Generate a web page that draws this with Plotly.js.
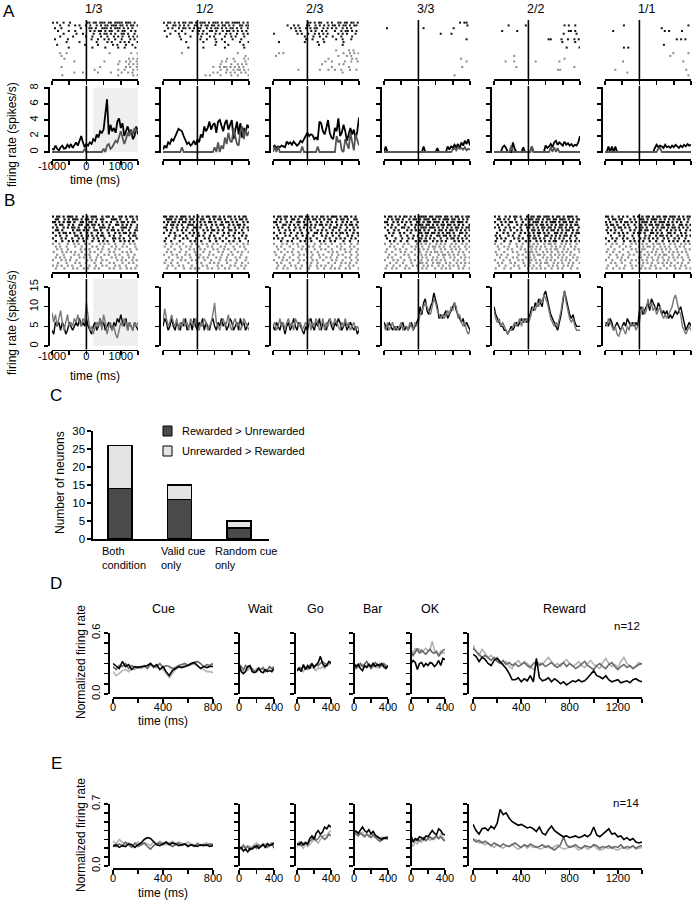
<!DOCTYPE html>
<html>
<head>
<meta charset="utf-8">
<script src="https://cdn.plot.ly/plotly-3.0.1.min.js"></script>
<style>body{margin:0;background:#fff}#fig{width:693px;height:900px}</style>
</head>
<body>
<div id="fig"></div>
<script>
/* ---------- A / B : PSTH values (spikes/s), 50 ms steps from -1000 to 1500 ms ---------- */
var colTitles = ['1/3', '1/2', '2/3', '3/3', '2/2', '1/1'];

var aBlack = [
  [0.4,0.3,0.8,0.4,0.2,0.6,0.8,0.4,0.5,0.9,0.6,1.0,0.5,0.8,1.2,0.8,1.4,2.0,1.2,0.6,1.0,0.8,1.2,1.0,1.6,1.4,2.2,1.8,2.6,2.4,2.8,4.5,6.6,2.2,3.4,2.6,3.0,2.4,3.8,4.2,3.0,3.6,2.0,2.6,3.2,2.4,2.8,1.6,2.0,3.2,2.2],
  [0.3,0.8,0.5,1.2,1.0,1.6,1.4,2.0,2.4,2.9,2.8,2.6,2.0,1.4,1.0,1.2,0.8,1.0,1.4,0.9,1.6,1.2,2.2,1.8,3.2,2.6,3.0,3.8,2.8,3.4,3.6,2.4,3.8,4.0,3.2,2.6,3.6,4.0,2.8,3.4,4.0,1.6,3.0,3.8,2.2,3.6,1.8,3.0,2.4,3.4,3.0],
  [0.6,0.8,0.5,0.7,0.6,0.8,0.7,0.6,1.3,1.0,1.2,0.9,1.3,1.0,0.8,1.0,1.4,1.2,1.6,2.0,2.4,2.0,2.2,2.1,1.6,1.8,1.5,3.8,3.6,2.6,2.2,3.0,4.0,2.4,1.8,1.6,3.0,2.6,4.2,2.0,2.4,3.4,2.6,1.4,2.2,3.0,2.2,2.8,1.6,2.6,4.3],
  [0,0.7,0,0,0,0,0,0,0,0,0,0,0,0,0,0,0,0,0,0,0,0,0,0.7,0,0,0,0,0,0,0,0.5,0,0,0,0,0,0.7,0.3,0.7,0.5,0.9,0.6,1.0,0.5,1.2,0.8,1.4,1.0,1.6,0.8],
  [0,0,0,0,0,0.6,0.8,0.5,0,0,0,1.2,0.4,0,0,0,0,0.6,0,0,0,0,0.7,0,0,0,0,0,0,0,0.8,0.5,0.7,1.0,0.6,1.2,1.4,0.9,1.2,1.0,0.8,1.3,0.9,1.1,0.8,1.0,0.7,0.9,0.8,1.2,2.0],
  [0,0,0.7,0,0.7,0,0.7,0,0,0,0,0,0,0,0,0,0,0,0,0,0,0,0,0,0,0,0,0,0,0.5,0.9,0.6,0.8,0.7,0.5,0.9,0.6,0.7,0.5,0.8,0.6,0.9,0.7,0.5,0.8,0.6,0.9,0.7,1.0,0.8,0.9]
];
var aGray = [
  [0,0,0,0,0,0,0,0,0,0,0,0,0,0,0,0,0,0,0,0.4,0,0,0,0,0,0,0,0,0,0,0.4,0,0.8,1.0,0.4,0.6,1.0,1.4,1.2,2.0,2.6,1.8,1.0,1.6,2.4,2.0,2.8,2.2,3.0,2.6,2.8],
  [0,0,0,0,0,0,0,0,0,0,0,0.6,0,0,0,0,0,0,0,0,0,0,0,0,0,0,0,0,0,0,0.6,0,1.2,0,0.8,0.4,1.8,1.0,2.4,1.4,1.2,3.0,2.0,1.0,0.8,2.6,3.2,1.6,2.8,2.0,2.6],
  [0,0.7,0,0.7,0,0,0,0,0,0,0,0,0,0,0,0,0,0.7,0,0,0,0,0,0,0,0,0.7,0,0,0,0,0,0,0,0,0,0,2.0,1.2,1.5,0.2,0,1.6,1.0,0.4,2.4,1.0,0.2,2.2,1.4,0.8],
  [0,0,0,0,0,0,0,0,0,0,0,0,0,0,0,0,0,0,0,0,0,0,0,0,0,0,0,0,0,0,0,0,0,0,0,0,0,0,0,0,0.3,0.5,0.2,0.6,0.4,0.5,0.3,0.6,0.2,0.4,0.3],
  [0,0,0,0,0,0,0,0,0,0,0.8,0,0,0,0,0,0,0,0,0,0,0,0.7,0,0,0,0,0,0,0,0,0,0,0.6,0,0.6,0,0.5,0,0,0,0,0,0,0,0,0,0,0,0,0],
  [0,0,0,0,0,0,0,0,0,0,0,0,0,0,0,0,0,0,0,0,0,0,0,0,0,0,0,0,0,0,0,0.4,0.5,0,0,0,0,0,0,0,0,0,0,0,0,0,0,0,0,0,0]
];
var bBlack = [
  [4,3,6,5,6,4,6,5,3,4,6,5,4,5,6,5,7,5,6,5,7,5,4,3,5,6,4,5,7,5,6,4,5,6,5,4,6,5,7,6,8,6,5,7,4,6,5,4,6,5,4],
  [5,7,6,4,5,7,5,4,6,5,4,6,5,7,4,5,6,4,7,5,4,6,5,7,4,6,5,4,6,7,5,4,6,5,7,5,6,4,5,7,6,4,5,6,4,7,5,6,4,5,6],
  [5,4,6,5,4,6,5,3,5,6,4,5,7,5,4,6,5,4,3,5,4,6,7,5,4,6,5,7,4,6,5,4,6,7,5,4,6,5,7,6,4,5,6,4,5,6,5,4,5,3,4],
  [6,5,4,6,5,4,5,4,5,4,5,6,4,5,4,5,6,4,5,6,7,10,8,11,12,9,8,10,11,13.5,12,10,7,8,7,8,9,7,8,9,10,11,9,8,7,6,7,5,6,5,4],
  [10,8,7,6,5,5,4,4,3,4,5,4,5,6,5,6,7,6,7,6,7,8,10,9,11,10,12,11,10,13,14,12,10,8,7,6,5,4,6,8,11,14,12,10,8,7,8,6,5,5,5],
  [5,6,5,7,6,4,5,6,5,4,5,6,5,7,6,5,6,5,6,5,9,10,8,9,10,11,9,12,11,10,9,11,10,8,9,8,9,7,8,7,8,9,8,9,10,8,6,4,5,6,5]
];
var bGray = [
  [8.5,6,8,5,7,9,6,4,6,8,5,6,5,7,6,8,6,5,7,6,11,7,4,5,3,5,6,5,7,4,8,6,3,5,6,4,5,3,2,4,6,5,7,6,4,6,5,4,6,5,6],
  [6,9.5,7,5,6,8,6,5,7,4,6,5,7,5,6,4,7,6,5,7,5,4,6,5,7,6,4,5,6,8,11,6,5,4,6,7,5,6,8,5,4,6,7,5,6,4,5,7,6,5,4],
  [5,6,4,5,7,5,6,4,6,7,5,6,4,7,6,5,6,4,5,6,5,7,4,6,5,7,6,4,5,7,4,6,5,7,6,5,7,6,5,4,6,5,7,5,6,4,5,6,4,5,4],
  [5,4,6,4,5,6,4,5,4,5,6,4,5,5,4,6,5,4,6,5,6,8,9,10,11,10,9,8,10,12,11,9,8,7,8,7,8,9,8,10,9,11,10,7,8,6,5,6,4,3,4],
  [9,7,6,7,5,6,5,4,3,4,4,5,6,5,6,7,5,7,6,7,6,7,9,10,9,11,10,12,11,13,12,11,9,7,6,5,6,5,7,9,12,14,11,9,7,6,7,5,4,4,4],
  [6,5,7,6,5,4,5,3,2.5,4,5,4,3,5,4,6,5,6,4,5,6,9,10,8,9,12,10,11,9,10,8,9,10,8,7,8,7,8,9,10,12,13,11,9,8,5,4,3,4,5,4]
];

/* ---------- rasters: one string per trial, 'o' = spike in a 62.5 ms bin ---------- */
var rastABlack = [
  ["o.o..o..o.......oo.oo.ooo.oo.oooo.ooo.o.","...o...o..o.o..o.o..o.o.oo.ooo.oo.o.oo.o",".o..o........o...oo.o..ooo.o.ooo.o.o.o..","..o....o..o......o.o.oo.o.oo..o.oo..o.o.",".....o.....o..o....o..o.oo.o.o..oo.o..o.","...o.....o.....o..o...o..o..o.o.o..o.o.o",".o.....o..........o..o..o.o..o..o...o.o.","......o.....o.......o....o.o...o.o.o...o","..o............o.....o......o.o...o..o..",".......o..........o.....o.....o..o....o."],
  ["o.oo.o.o.oo.oo.o.ooo.o.ooo.o.oo.oooo.o.o",".o..oo.o.o.o..oo.o.oo.oo.o.oo.o.o..oo.oo","..o.o..o.oo.o.o.oo..o.o.oo.o.o.oo.o.o..o","o....o..o....o..o.o..oo.o..o.oo.o.o.o.o.","...o...o..o.....o.o.o...o.o..o.o..o..o.o",".o.....o....o....o...o.o....o..o.o...o..","........o........o..o...o..o....o...o...","..........o.......o.....o...o......o...o.","........................o.....o......o..","...........o......o.........o........o.."],
  ["................oo.o.oo..o.o..oo.oo.oo.o","......o..o.o...oo..o.o.o.o.oo.o.oo.o.oo","........o.o.o..o.o.oo..o.o.o.o..o.o.o..","..........o.o....o.o..o.o...o..o.oo.o.o","o..........o.o..o..o.o.o.o....o.o.o...o","..............o...o..o..o..o...o....o..","...............o..o....o.....o..o...o...","..o...........o.....o..o........o......",".....................o..........o.......","........................................"],
  ["...................................o.oo.","......................................o.",".o................o.............o.......","........................................","..........................o....o........","........................................","......................................o.","........................................","........................................","........................................"],
  ["........................................","......o.......o.................o.o..o..","........................................","...o......o.......................oo.o..","................................o.....o.","........................................",".........................oo....o..o..o.o","...............................o.....o..","........................................",".................................o.....o"],
  ["........................................","........o.............................o.","..........................o.............","...o.......................o.o.....o....","........................................","........................................",".................................o.o.o..","........................................","...........................o............","........o.o............................."]
];
var rastAGray = [
  ["........................................","...o..o...................o.........o..o.","....o...................................o",".....o.............................o.o.o.","..........o.............o......o..o.o..o","..............................o....o.o.oo","....o.................o...........o.o..o","...................o..........o..o...o.o","..........o...o......o.....o....o..o.o..","....o.........................o......o.o"],
  ["........................................","........o.........................o.....","......................................o.",".............................o..o....o.o","...........................o.o...o....o.","..........................o....o..o.o.o.",".......................o..o.oo.o.o.o.o..","..........................o..o..o.oo.o.o",".......................o.o...o.o.o..o.o.","...................o.o....o....o..o....o"],
  [".............................o.....o.o..","..o.o...........................o..o.o.o",".o............................o...o.o...",".........................o..........o.o.","........................o..o.....o..o..o","......................o.......o.o.......","...........................o.......o....","...........o.........o...o..o..o...o..o.","................................o.......","........................................"],
  ["........................................","........................................","........................................","...................................o....","......................................o.","........................................","....................................o...","........................................","........................................","................................o......."],
  ["........................................","........................................",".........o..............................","................................o.......",".....o...o.........o..........o.........","........................................","..........o..........................o..",".............................oo.........","........................................","........................................"],
  ["........................................","...............................o......o.","..............................o.........","........................................","........o...........................o...","........................................","........................................","....o................................o..","..........o.............................","......................................o."]
];
var rastBBlack = [
  ["o.oo.o.ooo.o..o.o.ooo..o.oo.o..oo.o.oo.o",".oo..o.o.ooo.o.oo.o.o.oo...ooo.o..o..o.o","oo.o.o.oo.o..oo..oo.o..o.o.o..o.oo.o.oo.",".o.oo..o.o..oo..o.oo.o.o..o..oo.o.o.o..o","o.o..o.o.oo.o..o.o.o..ooo.o.o...ooo.o..o",".oo.o....o.oo.o.o..oo.o..o.oo.o.o..o..oo","o..o.oo.o.o..o..o.o..o.o..o..o.o.oo.o.o.",".o.o..o...oo.o..o.o.o.oo..o.o..o...o.oo.","o...o.o..o..o.o.o..o.o..o...oo.o.o..o..o",".o..o..o.o.o..o...o..o.o.o..o..o.o.o.o.."],
  ["oo.oo.o.ooo.o.o.o.o.oo.oo.o.o.oo.o.o.oo.",".ooo.o.oo.o.oo.o.oo..o.o.oo.o..o.o.oo.o.","o.o.oo.o.oo.o.o..o.o.oo.o..o.oo.o.o..o.o",".o.oo.o.o..ooo.o.o.o..o.o.oo..o.o.oo.o..","oo..o.o..o.o..oo.o..o.o..o..o.o..o.o.o.o",".o.o..o.o.o..o.o..o.o.oo.o.o..oo.o..o..o","o..o.o...o..o.o.o..o..o..o..o.o..o.o.o..","..o..o.o..o..o..o.o..o.o...o..o.o...o.o.",".o...o...o.o...o...o.o..o.o..o...o.o..o.","o..o...o....o.o..o...o..o..o..o.o..o...o"],
  ["o.oo.oo.o.o.oo.oo.o.o.oo.o.ooo.o.oo.o.o.",".o.o.o..oo.o..o.o.oo.o.o.oo..o.oo.o..oo.","oo.o..o.o..oo.o..o..o.o..o.o.o..o.o.o..o",".o..oo.o.o.o..oo.o.o.oo.o.o..o.o.o.oo.o.","o.o.o..o..o.o.o..o.o...o..o.oo.o..o..o.o","..o..o.o.o..o..o.o..o.o.o..o..o..o.o.o..","o..o.o..o..o.o..o..oo.o..o.o.o.oo.o..o.o",".o...o.o..o..o.o..o...o.o..o..o...o.o..o","o.o.o....o.o...o.o..o...o.o..o.o.o..o.o.","...o..o.o...o.o..o...o.o..o.o...o..o...o"],
  ["o.oo.o.o.oo.o.o.oooo.oo.ooo.oo.o.oo.o.oo",".o.o.oo.o..o.oo.o.ooo.oo.o.ooo.oo.o.o.o.","oo..o.o.o.o.o..oo.o.oo.ooo.o.o.oo.ooo.o.",".o.o..o..o..o.o.oo.oo.o.o.oo.oo.o.o.o..o","o..o.o..oo.o..o..ooo.ooo.o.o.o.o.oo.o.oo",".o..o.o...o.o.o.o.o.o..o.oo.o.oo.o.o.o.o","..o.o..o.o..o...oo.oo.oo.o.o.oo.o..oo.o.","o..o...o..o..o.o.o.o.o..oo.oo.o.o.o..o.o",".o...o..o..o.o..oo.o.o.o..o..o.oo.o.o.o.","..o.o..o..o...o.o.oo..o.o.o.o...o.o.o..o"],
  ["o.o..o.o.oo.o..o.oo.oo.ooo.o.oo.o.ooo.o.",".oo.o.o..o..o.o.oo.oo.o.oo.oo.ooo.o.o.oo","o..o.o.oo.o..o..o.ooo.o.o.ooo.o.oo.oo.o.",".o.o..o...o.o.o.oo.o.oo.o.o.o.oo.o.o.oo.","o.o..o.o.o..o..oo.o.o.oo.oo.o.oo.o.oo..o","..o.o..o..o.o..o.oo.o.o.o.oo.o.o.oo.o.o.",".o..o.o..o..o.o.o.o.oo.o.o..oo.o.o..o.oo","o.o...o.o..o...oo.o.o..oo.o.o.o.oo.o.o..",".o.o.o...o.o.o..o.oo.o.o..o.o.o.o..o..o.","o...o..o...o..o.o..o.o.o.o.oo..o.o.o.o.o"],
  ["oo.o..o.o.o..o.o.o.oo.o.oo.oo.ooo.o.o.oo",".o.oo.oo...o.o..oo.o.ooo.o.o.o.o.oo.o.o.","o.o..o.o.oo.o.o..ooo.o.o.ooo.o.o.o.o..o.","o.oo.o..o.o..o..o.o.oo.oo.o.oo.o..oo.o.o",".o..o.oo.o.o..o.oo.o..o.o.oo.o.oo.o.o.o.","o.o.o..o...o.o..o.oo.o.o.o..o.o.o.o..o.o",".o..o.o.o.o..o.oo.o..oo.o.o..oo.o..o.o..","..o...o.o...o..o..o.o..o.oo.o.o..o.o.o.o","o..o.o..o.o..o..o.o.o.o.o..o.o..o.o..o..",".o..o...o..o.o.o.o..o..o..o..o.o.o..o.o."]
];
var rastBGray = [
  ["o..o...o..o.o..o.o....o.o.o..o...o..o.o.",".o.o..o...o..o....o.o..o...o.o..o.o...o.","..o.o..o.....o.o.o...o.o..o..o.o....o..o","o...o.o.o.o..o...o.o..o...o.o...o.o.o...","..o..o....o.o..o.o...o..o.o..o.o...o..o.",".o.o.o..o...o.o..o..o.o....o.o..o..o.o..","o...o.o.o..o....o.o.o..o.o....o.o.o..o.o","..o...o...o.o..o...o..o...o.o...o..o.o..","o.o.o..o.o...o...o..o..o.o...o.o..o....o",".o...o...o.o..o.o..o.o....o.o..o..o.o.o."],
  [".o..o.o..o...o.o..o.o..o.o...o.o..o..o.o","o..o...o..o.o...o...o.o...o.o...o..o.o..","..o..o..o...o.o..o.o...o.o..o.o..o....o.",".o.o...o..o...o...o..o...o.o...o..o.o..o","o...o.o...o.o..o.o...o.o...o..o.o...o...","..o...o.o...o...o.o.o...o.o..o...o.o..o.",".o..o...o.o..o.o...o..o...o..o.o..o...o.","o..o..o....o...o.o...o.o.o...o...o..o..o","..o.o..o.o...o....o.o....o.o...o.o..o.o.",".o...o...o..o.o.o...o.o..o..o.o...o..o.."],
  ["o...o.o..o.o...o...o..o.o..o...o.o..o..o",".o.o...o...o.o..o.o..o...o...o.o...o.o..","..o..o...o...o.o...o..o.o..o...o.o..o..o","o..o..o.o..o...o.o..o....o.o.o...o.o..o.",".o...o...o..o.o...o..o.o...o..o.o...o..o","..o.o..o...o...o.o...o..o.o..o...o.o..o.","o...o.o..o..o.o...o.o..o...o.o..o...o..o",".o.o...o...o...o.o..o....o..o..o.o.o..o.","..o..o..o.o..o...o..o.o.o..o...o...o.o..",".o..o.o...o.o...o...o..o..o.o.o..o.o...o"],
  ["o..o..o..o.o...o.o.o.o..o.o.o..o.o..o.o.","..o.o...o...o.o..o..o.oo.o.o..o.o.o..o.o",".o...o.o..o...o.o.o.o..o..o.o..o.o.o..o.","o..o...o.o..o...o..o.o.oo.o..o.o..o.o..o","..o..o...o.o..o..o.o.o...o.oo.o.o.o..o..",".o.o...o...o...o.o.o..o.o..o..o.o..o.o.o","o...o.o..o..o.o..o..o.o.o.o.o...o.o..o..","..o..o..o...o...oo.o..o.oo..o.o..o.o.o.o",".o..o..o..o..o.o..o.o.o..o.o..o.o.o..o..","o..o.o...o.o...o.o.o...o..o.o.o...o.o..o"],
  ["o..o...o..o..o..o.o.o..o.oo.o..o.o.o..o.",".o..o.o...o.o...oo.o.o.o..o.o.o.o..o.o..","..o...o.o...o.o..o.o.o..o.o.oo..o.o..o.o","o...o...o.o...o.oo.o..o.o.o..o.o.o.o...o",".o.o..o....o.o..o.o.oo.o..o.o.o.o..o.o..","..o..o..o.o...o.o.o...o.o.o..o.o.o..o.o.","o...o..o...o.o..oo.o.o..o.o.o..o.o.o..o.",".o.o...o.o...o..o..o.o.oo..o.o.o..o.o..o","..o..o...o.o..o.o.o..o...o.o.o..o.o.o...","o...o..o...o...o.o.o.o.o..o..o.o...o..o."],
  ["o..o.o..o...o.o..o.o..o.oo.o..o.o..o.o.o","..o...o..o.o...o.o.oo.o..o.o.o..o.o.o...",".o..o...o...o.o..oo...o.o.o.o.o..o...o.o","o..o..o...o...o.o..o.o.o..o..o.o.o.o.o..","..o..o..o..o.o..o.o.o..o.o.oo..o..o...o.",".o...o.o..o....oo..o.o..o.o..o.o.o.o..o.","o..o...o.o..o.o..o.o..o.o..o.o..o...o..o","..o.o..o...o...o.o.o.o..o.o.o.o..o.o..o.",".o...o...o..o.o..o...o.o...o..o.o..o.o..","o..o..o.o...o...o.o.o..o.o..o...o.o..o.o"]
];

/* ---------- C : counts of neurons ---------- */
var catsC = ['Both<br>condition', 'Valid cue<br>only', 'Random cue<br>only'];
var rewHigher = [14, 11, 3];
var unrewHigher = [12, 4, 2];

/* ---------- D / E : normalized rate, 25 ms steps ---------- */
var epochs = ['Cue', 'Wait', 'Go', 'Bar', 'OK', 'Reward'];
var epochLen = [800, 400, 400, 400, 400, 1400];

var dBlack = [
  [0.30,0.27,0.25,0.32,0.27,0.29,0.24,0.27,0.26,0.27,0.27,0.28,0.30,0.27,0.29,0.24,0.27,0.22,0.18,0.23,0.25,0.27,0.26,0.27,0.28,0.30,0.31,0.28,0.25,0.27,0.26,0.27,0.27],
  [0.30,0.22,0.20,0.22,0.27,0.28,0.22,0.21,0.22,0.26,0.22,0.21,0.24,0.22,0.23,0.22,0.25],
  [0.23,0.25,0.22,0.29,0.24,0.28,0.25,0.30,0.26,0.29,0.31,0.37,0.30,0.27,0.28,0.32,0.30],
  [0.30,0.27,0.29,0.25,0.23,0.28,0.26,0.29,0.27,0.30,0.27,0.29,0.28,0.30,0.27,0.25,0.28],
  [0.30,0.33,0.31,0.24,0.30,0.31,0.27,0.30,0.28,0.31,0.30,0.27,0.29,0.33,0.28,0.35,0.34],
  [0.39,0.37,0.32,0.36,0.34,0.30,0.28,0.33,0.35,0.32,0.28,0.25,0.20,0.14,0.14,0.16,0.12,0.15,0.13,0.18,0.12,0.35,0.16,0.13,0.14,0.16,0.12,0.15,0.13,0.10,0.12,0.09,0.11,0.13,0.12,0.14,0.12,0.13,0.16,0.19,0.23,0.18,0.17,0.15,0.18,0.14,0.12,0.13,0.14,0.11,0.12,0.13,0.11,0.14,0.15,0.13,0.12]
];
var dDark = [
  [0.27,0.24,0.28,0.27,0.30,0.25,0.28,0.26,0.27,0.26,0.28,0.25,0.30,0.26,0.27,0.30,0.26,0.28,0.27,0.25,0.26,0.28,0.29,0.30,0.28,0.29,0.31,0.32,0.30,0.27,0.29,0.28,0.30],
  [0.29,0.27,0.24,0.28,0.26,0.27,0.25,0.22,0.23,0.25,0.24,0.26,0.22,0.24,0.27,0.25,0.27],
  [0.24,0.26,0.25,0.27,0.26,0.25,0.28,0.30,0.27,0.29,0.28,0.30,0.32,0.30,0.29,0.31,0.32],
  [0.28,0.25,0.27,0.30,0.27,0.29,0.32,0.28,0.25,0.27,0.31,0.29,0.26,0.28,0.30,0.27,0.26],
  [0.42,0.38,0.41,0.45,0.40,0.43,0.41,0.39,0.42,0.44,0.41,0.40,0.42,0.37,0.40,0.43,0.44],
  [0.45,0.42,0.39,0.36,0.38,0.35,0.33,0.36,0.32,0.30,0.33,0.29,0.31,0.28,0.30,0.27,0.29,0.31,0.28,0.26,0.30,0.32,0.28,0.30,0.27,0.29,0.31,0.28,0.26,0.29,0.31,0.27,0.30,0.28,0.25,0.27,0.30,0.32,0.28,0.26,0.24,0.28,0.30,0.27,0.25,0.29,0.31,0.27,0.24,0.27,0.29,0.26,0.28,0.25,0.27,0.29,0.30]
];
var dLight = [
  [0.22,0.18,0.20,0.23,0.24,0.22,0.25,0.24,0.26,0.25,0.27,0.26,0.28,0.27,0.26,0.25,0.24,0.20,0.16,0.20,0.24,0.26,0.27,0.28,0.29,0.30,0.29,0.28,0.26,0.24,0.22,0.22,0.21],
  [0.25,0.24,0.22,0.25,0.23,0.26,0.24,0.22,0.25,0.23,0.24,0.25,0.23,0.24,0.26,0.24,0.25],
  [0.22,0.25,0.24,0.22,0.26,0.24,0.25,0.27,0.25,0.23,0.26,0.25,0.27,0.25,0.28,0.29,0.30],
  [0.26,0.28,0.30,0.27,0.29,0.26,0.28,0.30,0.27,0.29,0.28,0.26,0.30,0.28,0.26,0.29,0.27],
  [0.44,0.40,0.45,0.42,0.44,0.41,0.43,0.45,0.42,0.44,0.52,0.43,0.41,0.39,0.42,0.40,0.41],
  [0.48,0.42,0.38,0.44,0.40,0.36,0.38,0.34,0.36,0.31,0.29,0.32,0.27,0.25,0.30,0.33,0.29,0.32,0.30,0.27,0.24,0.28,0.31,0.29,0.33,0.36,0.32,0.28,0.30,0.27,0.31,0.34,0.30,0.27,0.29,0.32,0.28,0.26,0.30,0.33,0.29,0.27,0.25,0.31,0.35,0.30,0.27,0.29,0.26,0.32,0.36,0.30,0.27,0.25,0.28,0.31,0.29]
];
var eBlack = [
  [0.22,0.24,0.21,0.23,0.22,0.25,0.24,0.21,0.24,0.26,0.30,0.32,0.31,0.27,0.24,0.23,0.25,0.27,0.24,0.26,0.25,0.23,0.24,0.25,0.22,0.24,0.23,0.22,0.24,0.23,0.24,0.22,0.23],
  [0.20,0.21,0.17,0.19,0.16,0.20,0.19,0.21,0.23,0.20,0.22,0.24,0.21,0.25,0.23,0.24,0.26],
  [0.25,0.24,0.27,0.24,0.26,0.25,0.31,0.34,0.30,0.37,0.40,0.36,0.38,0.44,0.42,0.46,0.44],
  [0.40,0.39,0.37,0.41,0.44,0.40,0.38,0.41,0.36,0.39,0.35,0.33,0.31,0.30,0.32,0.31,0.33],
  [0.34,0.28,0.31,0.29,0.33,0.32,0.30,0.34,0.33,0.36,0.40,0.37,0.35,0.42,0.40,0.36,0.35],
  [0.47,0.40,0.36,0.42,0.43,0.40,0.45,0.42,0.48,0.64,0.58,0.60,0.54,0.50,0.48,0.46,0.47,0.45,0.43,0.44,0.42,0.39,0.44,0.37,0.35,0.41,0.45,0.40,0.37,0.35,0.33,0.34,0.32,0.33,0.34,0.32,0.33,0.35,0.33,0.36,0.44,0.35,0.33,0.36,0.39,0.42,0.36,0.37,0.33,0.34,0.30,0.32,0.29,0.31,0.27,0.26,0.27]
];
var eDark = [
  [0.24,0.22,0.25,0.23,0.27,0.24,0.21,0.26,0.22,0.24,0.26,0.22,0.19,0.23,0.25,0.26,0.24,0.27,0.25,0.22,0.24,0.26,0.23,0.25,0.23,0.24,0.22,0.25,0.23,0.24,0.23,0.25,0.24],
  [0.21,0.19,0.23,0.20,0.22,0.18,0.21,0.23,0.20,0.24,0.22,0.25,0.23,0.21,0.24,0.26,0.20],
  [0.24,0.26,0.23,0.25,0.27,0.24,0.28,0.30,0.33,0.29,0.31,0.35,0.33,0.30,0.32,0.36,0.34],
  [0.38,0.36,0.34,0.37,0.35,0.33,0.36,0.34,0.32,0.35,0.33,0.30,0.28,0.29,0.31,0.33,0.30],
  [0.30,0.27,0.29,0.31,0.28,0.30,0.32,0.29,0.31,0.33,0.30,0.32,0.34,0.31,0.33,0.30,0.28],
  [0.31,0.27,0.29,0.26,0.28,0.25,0.23,0.26,0.24,0.22,0.25,0.23,0.22,0.24,0.26,0.23,0.21,0.24,0.22,0.25,0.23,0.21,0.22,0.24,0.21,0.23,0.20,0.18,0.21,0.24,0.33,0.24,0.21,0.22,0.24,0.21,0.20,0.23,0.22,0.21,0.24,0.23,0.20,0.22,0.21,0.23,0.20,0.22,0.21,0.24,0.20,0.22,0.21,0.23,0.20,0.22,0.23]
];
var eLight = [
  [0.28,0.25,0.30,0.27,0.24,0.26,0.23,0.25,0.27,0.24,0.26,0.25,0.23,0.27,0.25,0.28,0.26,0.24,0.26,0.28,0.25,0.27,0.26,0.24,0.27,0.25,0.23,0.26,0.24,0.25,0.26,0.24,0.25],
  [0.22,0.20,0.24,0.21,0.23,0.22,0.20,0.24,0.26,0.22,0.23,0.25,0.24,0.26,0.23,0.25,0.24],
  [0.21,0.28,0.23,0.20,0.25,0.22,0.24,0.27,0.30,0.28,0.26,0.30,0.33,0.35,0.34,0.38,0.40],
  [0.36,0.39,0.35,0.37,0.38,0.34,0.36,0.33,0.37,0.35,0.32,0.34,0.31,0.33,0.30,0.32,0.31],
  [0.26,0.22,0.28,0.25,0.29,0.27,0.30,0.28,0.31,0.29,0.32,0.30,0.33,0.31,0.36,0.32,0.29],
  [0.28,0.30,0.26,0.27,0.24,0.26,0.23,0.21,0.24,0.22,0.20,0.23,0.22,0.25,0.21,0.19,0.22,0.24,0.20,0.23,0.21,0.22,0.19,0.20,0.23,0.21,0.20,0.22,0.24,0.21,0.19,0.20,0.22,0.23,0.21,0.18,0.20,0.22,0.19,0.21,0.23,0.20,0.18,0.19,0.21,0.20,0.22,0.19,0.18,0.20,0.21,0.19,0.20,0.22,0.19,0.20,0.21]
];

/* ---------- helpers ---------- */
var W = 693, H = 900;
function fx(p) { return p / W; }
function fy(p) { return 1 - p / H; }

var data = [], shapes = [], annotations = [];
var layout = {
  width: W, height: H, margin: {l: 0, r: 0, t: 0, b: 0},
  showlegend: false, paper_bgcolor: '#fff', plot_bgcolor: 'rgba(0,0,0,0)',
  font: {family: 'Liberation Sans, Arial, sans-serif', size: 11, color: '#000'}
};
var axBase = {showgrid: false, zeroline: false, showline: true, linecolor: '#000', linewidth: 1.6,
  ticks: 'outside', ticklen: 4, tickwidth: 1.6, tickcolor: '#000', fixedrange: true};

var nAx = 0;
function panel(x0, x1, yTop, yBot, xo, yo) {
  nAx++;
  var k = nAx === 1 ? '' : String(nAx);
  layout['xaxis' + k] = Object.assign({}, axBase, {domain: [fx(x0), fx(x1)], anchor: 'y' + k}, xo);
  layout['yaxis' + k] = Object.assign({}, axBase, {domain: [fy(yBot), fy(yTop)], anchor: 'x' + k}, yo);
  return {x: 'x' + k, y: 'y' + k};
}
function lineTrace(ax, t, v, color, w) {
  data.push({x: t, y: v, xaxis: ax.x, yaxis: ax.y, type: 'scatter', mode: 'lines',
    line: {color: color, width: w}, hoverinfo: 'skip'});
}
function steps(start, step, n) {
  var a = [];
  for (var i = 0; i < n; i++) a.push(start + step * i);
  return a;
}
function rasterTrace(ax, rows, color, rowOffset, size) {
  var xs = [], ys = [];
  rows.forEach(function (r, j) {
    var shift = (j % 2) ? 0.3 : -0.1;   // stagger alternate trials so the dots don't line up in columns
    for (var i = 0; i < r.length; i++) {
      if (r[i] === 'o') { xs.push(-1000 + 62.5 * (i + 0.5 + shift)); ys.push(-(j + rowOffset)); }
    }
  });
  data.push({x: xs, y: ys, xaxis: ax.x, yaxis: ax.y, type: 'scatter', mode: 'markers',
    marker: {color: color, size: size, symbol: 'square', line: {width: 0}}, hoverinfo: 'skip'});
}
function vline(xref, top, bot) {
  shapes.push({type: 'line', xref: xref, yref: 'paper', x0: 0, x1: 0, y0: fy(bot), y1: fy(top),
    line: {color: '#000', width: 1.6}});
}
function txt(s, x, y, o) {
  annotations.push(Object.assign({text: s, xref: 'paper', yref: 'paper', x: fx(x), y: fy(y),
    showarrow: false, xanchor: 'center', yanchor: 'middle', font: {size: 12}}, o || {}));
}

/* ---------- A and B ---------- */
var colX = [52, 163, 273, 384, 494, 605], colW = 86;
var tk = [-1000, -500, 0, 500, 1000, 1500];
var tkTxt = ['-1000', '', '0', '', '1000', ''];

function psthRow(rowCfg) {
  colTitles.forEach(function (t, c) {
    var x0 = colX[c], x1 = colX[c] + colW;
    var r = panel(x0, x1, rowCfg.rTop, rowCfg.rBot,
      {range: [-1000, 1500], tickvals: tk, showticklabels: false, anchor: 'free', position: fy(rowCfg.rAx)},
      {visible: false, range: [-19.6, 0.6]});
    rasterTrace(r, rowCfg.rastBlk[c], '#111', 0, rowCfg.dot);
    rasterTrace(r, rowCfg.rastGry[c], rowCfg.dotGray, 10, rowCfg.dot);
    vline(r.x, rowCfg.rTop - 1, rowCfg.rAx);

    var p = panel(x0, x1, rowCfg.pTop, rowCfg.pBot,
      {range: [-1000, 1500], tickvals: tk, ticktext: tkTxt, showticklabels: c === 0,
        anchor: 'free', position: fy(rowCfg.pAx), tickfont: {size: 11}, ticklabelstandoff: -8},
      {range: rowCfg.yr, tickvals: rowCfg.yt, showticklabels: c === 0, tickangle: -90,
        anchor: 'free', position: fx(x0 - 4), tickfont: {size: 11}, ticklabelstandoff: 2});
    if (c === 0) {
      shapes.push({type: 'rect', xref: p.x, yref: 'paper', x0: 200, x1: 1500,
        y0: fy(rowCfg.shBot), y1: fy(rowCfg.shTop), fillcolor: '#efefef', line: {width: 0}, layer: 'below'});
    }
    lineTrace(p, steps(-1000, 50, rowCfg.blk[c].length), rowCfg.blk[c], '#000', rowCfg.lw);
    lineTrace(p, steps(-1000, 50, rowCfg.gry[c].length), rowCfg.gry[c], rowCfg.grayCol, rowCfg.lw);
    vline(p.x, rowCfg.vTop, rowCfg.pAx);
  });
}

psthRow({rTop: 21, rBot: 77, rAx: 79, rastBlk: rastABlack, rastGry: rastAGray, dot: 2, dotGray: '#8a8a8a',
  pTop: 86.8, pBot: 153.2, pAx: 159, yr: [-0.15, 8.15], yt: [0, 2, 4, 6, 8],
  shTop: 88, shBot: 152, vTop: 86, blk: aBlack, gry: aGray, grayCol: '#555', lw: 1.8});
psthRow({rTop: 215, rBot: 270, rAx: 272, rastBlk: rastBBlack, rastGry: rastBGray, dot: 2.2, dotGray: '#929292',
  pTop: 287, pBot: 346, pAx: 349.5, yr: [0, 15], yt: [0, 5, 10, 15],
  shTop: 279, shBot: 346, vTop: 279, blk: bBlack, gry: bGray, grayCol: '#777', lw: 1.4});

colTitles.forEach(function (t, c) { txt(t, colX[c] + 41, 9, {font: {size: 12.5}}); });
txt('A', 9, 11, {font: {size: 17}});
txt('B', 9, 200, {font: {size: 17}});
txt('firing rate (spikes/s)', 12, 135, {textangle: -90});
txt('firing rate (spikes/s)', 12, 323, {textangle: -90});
txt('time (ms)', 95, 180);
txt('time (ms)', 95, 376);

/* ---------- C ---------- */
var cAx = panel(93, 269, 431, 539,
  {range: [0.546, 3.504], ticks: '', showticklabels: false},
  {range: [0, 30], tickvals: [0, 5, 10, 15, 20, 25, 30], tickfont: {size: 11.5}});
var cx = catsC.map(function (s, i) { return i + 1; });
data.push({type: 'bar', x: cx, y: rewHigher, xaxis: cAx.x, yaxis: cAx.y, width: 0.4,
  marker: {color: '#4a4a4a', line: {color: '#000', width: 1.5}}, hoverinfo: 'skip'});
data.push({type: 'bar', x: cx, y: unrewHigher, xaxis: cAx.x, yaxis: cAx.y, width: 0.4,
  marker: {color: '#e4e4e4', line: {color: '#000', width: 1.5}}, hoverinfo: 'skip'});
layout.barmode = 'stack';
var catLeft = [100, 159, 213];
catsC.forEach(function (s, i) {
  txt(s, catLeft[i], 543, {xanchor: 'left', yanchor: 'top', align: 'left', font: {size: 11}});
});
txt('C', 56, 395, {font: {size: 17}});
txt('Number of neurons', 60, 483, {textangle: -90});
[['Rewarded > Unrewarded', '#4a4a4a', 431], ['Unrewarded > Rewarded', '#e4e4e4', 451]].forEach(function (l) {
  shapes.push({type: 'rect', xref: 'paper', yref: 'paper', x0: fx(163), x1: fx(172), y0: fy(l[2] + 5), y1: fy(l[2] - 5),
    fillcolor: l[1], line: {color: '#000', width: 1}});
  txt(l[0], 180, l[2], {xanchor: 'left', font: {size: 11}});
});

/* ---------- D and E ---------- */
var epAxX = [108, 238, 294, 353, 410, 467];
var epX0 = [113, 239, 297, 354, 411, 473];
var epX1 = [213, 274, 331, 388, 445, 642];
var epTitleX = [163, 260, 315, 373, 430, 564];

function epochRow(cfg) {
  epochs.forEach(function (name, e) {
    var len = epochLen[e];
    var xt = steps(0, 200, len / 200 + 1);
    var xtt = xt.map(function (v) { return v % 400 === 0 ? String(v) : ''; });
    var ytt = cfg.yt.map(function (v, i) { return (i === 0 || i === cfg.yt.length - 1) ? v.toFixed(1) : ''; });
    var ax = panel(epX0[e], epX1[e], cfg.top, cfg.bot,
      {range: [0, len], tickvals: xt, ticktext: xtt, anchor: 'free', position: fy(cfg.xAx),
        tickfont: {size: 11}, ticklabelstandoff: -5},
      {range: [0, cfg.yMax], tickvals: cfg.yt, ticktext: ytt, showticklabels: e === 0, tickangle: -90,
        anchor: 'free', position: fx(epAxX[e]), tickfont: {size: 11}});
    lineTrace(ax, steps(0, 25, cfg.lgt[e].length), cfg.lgt[e], '#b4b4b4', 1.6);
    lineTrace(ax, steps(0, 25, cfg.drk[e].length), cfg.drk[e], '#6a6a6a', 1.6);
    lineTrace(ax, steps(0, 25, cfg.blk[e].length), cfg.blk[e], '#000', 1.6);
  });
}
epochRow({top: 633, bot: 694, xAx: 697, yMax: 0.6, yt: [0, 0.1, 0.2, 0.3, 0.4, 0.5, 0.6],
  blk: dBlack, drk: dDark, lgt: dLight});
epochRow({top: 804, bot: 866, xAx: 868, yMax: 0.7, yt: [0, 0.1, 0.2, 0.3, 0.4, 0.5, 0.6, 0.7],
  blk: eBlack, drk: eDark, lgt: eLight});

epochs.forEach(function (name, e) { txt(name, epTitleX[e], 609, {font: {size: 12.5}}); });
txt('D', 56, 583, {font: {size: 17}});
txt('E', 56, 763, {font: {size: 17}});
txt('n=12', 642, 626, {xanchor: 'right', font: {size: 11.5}});
txt('n=14', 642, 803, {xanchor: 'right', font: {size: 11.5}});
txt('Normalized firing rate', 81, 662, {textangle: -90});
txt('Normalized firing rate', 81, 835, {textangle: -90});
txt('time (ms)', 163, 721);
txt('time (ms)', 163, 893);

layout.shapes = shapes;
layout.annotations = annotations;
Plotly.newPlot('fig', data, layout, {staticPlot: true});
</script>
</body>
</html>
